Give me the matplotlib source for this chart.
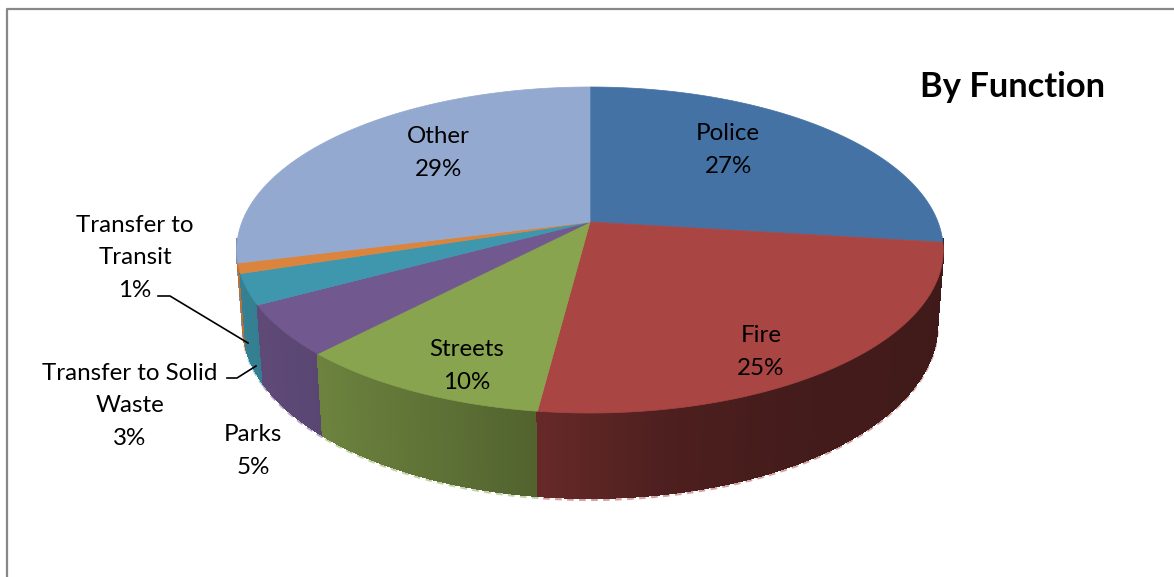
#!/usr/bin/env python3

"""
Spending by function, drawn as a 3D pie with a perspective tilt.
"""

import numpy as np
import matplotlib.pyplot as plt
from matplotlib.collections import PolyCollection
from matplotlib.colors import to_rgb
from matplotlib.patches import Polygon

plt.rcParams["font.family"] = ["Lato", "DejaVu Sans"]

# Slices, clockwise from twelve o'clock.
names = ["Police", "Fire", "Streets", "Parks",
         "Transfer to Solid\nWaste", "Transfer to\nTransit", "Other"]
shares = [27, 25, 10, 5, 3, 1, 29]
colors = ["#4472A5", "#A94543", "#88A44E", "#71588F",
          "#3F97AE", "#DB843D", "#93A9CF"]

# Where each label sits, and the two leader lines.
label_x = [728, 761, 467, 253, 130, 135, 438]
label_y = [150, 352, 366, 451, 406, 258, 153]
leader_transit_x = [158, 170, 248]
leader_transit_y = [296, 296, 343]
leader_waste_x = [227, 237, 256]
leader_waste_y = [378, 378, 366]

# Perspective camera for the disc, in pixels.
apex_x, apex_y = 590, 222
radius_x, radius_y = 348, 158.2
tilt = 0.1718
depth = 75
depth_shrink = 0.017


def project(theta, drop=0.0):
    # theta is clockwise from the top, drop=1 is the underside of the pie.
    x = np.sin(theta)
    y = np.cos(theta)
    w = 1 + tilt * y + depth_shrink * drop
    return apex_x + radius_x * x / w, apex_y - (radius_y * y - depth * drop) / w


def side_shade(px):
    # The wall gets darker from left to right.
    nx = (px - apex_x) / 354
    return np.interp(nx, [-1, -0.78, -0.14, 0.2, 0.6, 1],
                     [0.85, 0.8, 0.6, 0.46, 0.40, 0.38])


fig = plt.figure(figsize=(11.74, 5.77), dpi=100)
ax = fig.add_axes([0, 0, 1, 1])
ax.set_xlim(0, 1174)
ax.set_ylim(577, 0)
ax.axis("off")

# Chart frame, open at the right and bottom.
ax.plot([6.5, 6.5, 1174], [577, 8.5, 8.5], color="#888888", lw=1.6)

edges = 2 * np.pi * np.cumsum([0] + shares) / sum(shares)

# Pale speckled edge peeking out below the wall.
for i, color in enumerate(colors):
    theta = np.linspace(edges[i], edges[i + 1], 200)
    visible = np.cos(theta) < -0.1
    if visible.any():
        px, py = project(theta[visible], 1)
        pale = np.array(to_rgb(color)) * 0.5 + 0.5
        ax.plot(px, py + 1.5, color=pale, lw=2.4, ls=(0, (2, 1.6)), zorder=1)

# Outer wall: many thin strips, furthest first. The back of the rim stays hidden.
strips = []
strip_colors = []
strip_depth = []
for i, color in enumerate(colors):
    base = np.array(to_rgb(color))
    steps = np.linspace(edges[i], edges[i + 1], max(shares[i] * 6, 6) + 1)
    for a, b in zip(steps[:-1], steps[1:]):
        if np.cos((a + b) / 2) > -0.1:
            continue
        x0, y0 = project(a)
        x1, y1 = project(b)
        x2, y2 = project(b, 1)
        x3, y3 = project(a, 1)
        strips.append([(x0, y0), (x1, y1), (x2, y2), (x3, y3)])
        strip_colors.append(base * side_shade((x0 + x1) / 2))
        strip_depth.append(np.cos((a + b) / 2))

order = np.argsort(strip_depth)[::-1]
walls = PolyCollection([strips[j] for j in order],
                       facecolors=[strip_colors[j] for j in order],
                       edgecolors=[strip_colors[j] for j in order],
                       linewidths=0.8, antialiaseds=False, zorder=2)
ax.add_collection(walls)

# Top face of the pie.
for i, color in enumerate(colors):
    theta = np.linspace(edges[i], edges[i + 1], max(shares[i] * 6, 6) + 1)
    px, py = project(theta)
    points = [(apex_x, apex_y)] + list(zip(px, py))
    ax.add_patch(Polygon(points, closed=True, facecolor=color,
                         edgecolor=color, lw=0.5, zorder=3))

ax.plot(leader_transit_x, leader_transit_y, color="black", lw=1.2, zorder=4)
ax.plot(leader_waste_x, leader_waste_y, color="black", lw=1.2, zorder=4)

for name, share, lx, ly in zip(names, shares, label_x, label_y):
    ax.text(lx, ly, f"{name}\n{share}%", ha="center", va="center",
            fontsize=17.4, linespacing=1.66, color="black", zorder=5)

ax.text(1013, 87, "By Function", ha="center", va="center",
        fontsize=24.8, fontweight="bold", color="black", zorder=5)

fig.savefig("out.png", dpi=100)
